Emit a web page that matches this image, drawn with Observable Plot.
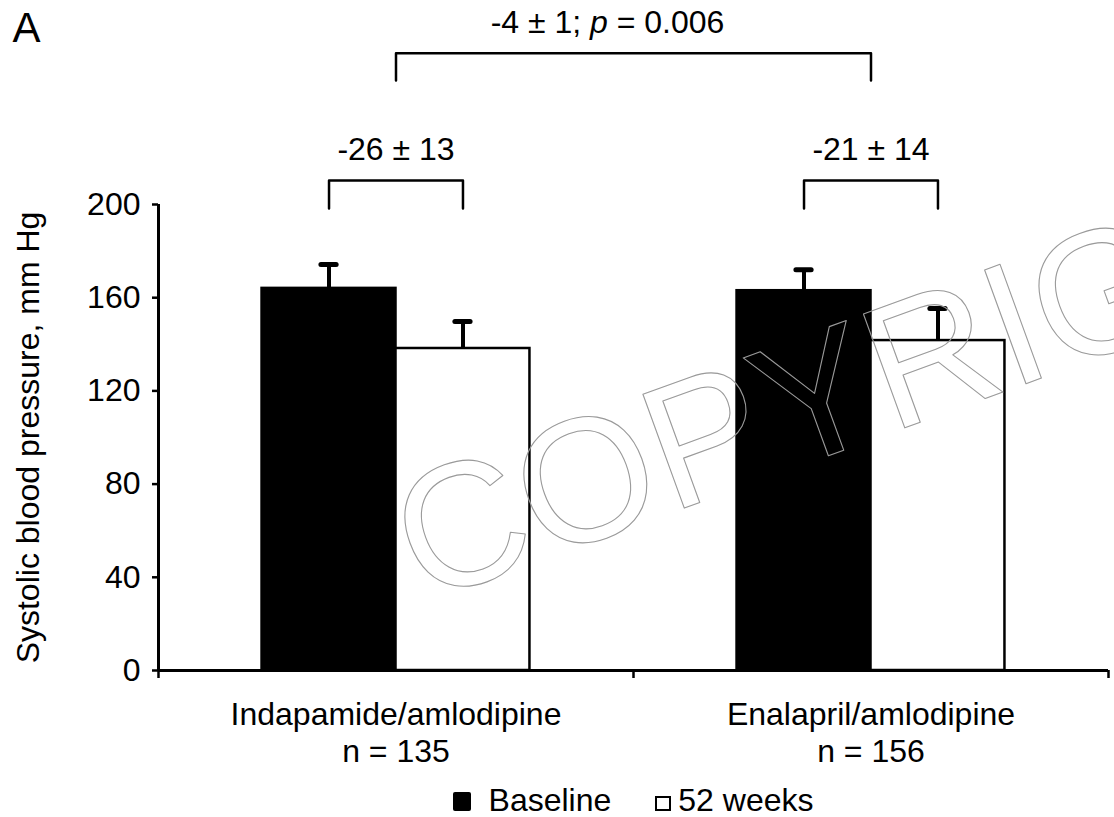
<!DOCTYPE html>
<html>
<head>
<meta charset="utf-8">
<script src="https://cdn.jsdelivr.net/npm/d3@7"></script>
<script src="https://cdn.jsdelivr.net/npm/@observablehq/plot@0.6"></script>
<style>
  body { margin: 0; background: #fff; overflow: hidden; font-family: "Liberation Sans", Arial, sans-serif; }
  #legend { box-sizing: border-box; width: 1114px; padding-left: 158px; padding-right: 6px; text-align: center;
            font-size: 32px; line-height: 36px; margin-top: 2px; color: #000; white-space: nowrap; }
  .sw { display: inline-block; vertical-align: baseline; box-sizing: border-box; }
  .sw.black { width: 18px; height: 19px; background: #000; border-radius: 2px; margin-right: 18px; }
  .sw.white { width: 16px; height: 15px; background: #fff; border: 2px solid #000; margin-right: 7px; margin-left: 44px; }
</style>
</head>
<body>
<div id="chart"></div>
<div id="legend"></div>
<script>
// ---- data ----
const groups = ["Indapamide/amlodipine", "Enalapril/amlodipine"];
const nLabels = ["n = 135", "n = 156"];
const periods = ["Baseline", "52 weeks"];
const baseline = [164, 163];
const week52 = [138.2, 141.6];
const baselineSD = [10.2, 9.0];
const week52SD = [11.6, 13.8];
const changes = ["-26 ± 13", "-21 ± 14"];
const between = "-4 ± 1; p = 0.006";
const yTicks = [0, 40, 80, 120, 160, 200];
const yLabel = "Systolic blood pressure, mm Hg";
const panel = "A";
const watermark = "COPYRIGHT";

// ---- derived tables ----
const bw = 0.282;      // bar width in x units (group spacing = 1)
const capHalf = 0.016;
const bars = groups.flatMap((g, i) => {
  const c = i + 0.5;
  return [
    {group: g, period: periods[0], value: baseline[i], sd: baselineSD[i], x1: c - bw, x2: c, xc: c - bw / 2},
    {group: g, period: periods[1], value: week52[i], sd: week52SD[i], x1: c, x2: c + bw, xc: c + bw / 2}
  ];
});

const bLow = 198.3, bHigh = 210.3, tLow = 253.2, tHigh = 264.9;
const brackets = [];
groups.forEach((g, i) => {
  const c = i + 0.5;
  [[c - bw / 2, bLow], [c - bw / 2, bHigh], [c + bw / 2, bHigh], [c + bw / 2, bLow]]
    .forEach(([x, y]) => brackets.push({id: "g" + i, x, y}));
});
[[0.5, tLow], [0.5, tHigh], [1.5, tHigh], [1.5, tLow]].forEach(([x, y]) => brackets.push({id: "top", x, y}));

const chart = Plot.plot({
  width: 1114,
  height: 780,
  marginLeft: 158,
  marginRight: 6,
  marginTop: 204,
  marginBottom: 110,
  style: {fontFamily: "Liberation Sans, Arial, sans-serif", color: "#000", background: "#fff"},
  x: {domain: [0, 2]},
  y: {domain: [0, 200]},
  color: {domain: periods, range: ["#000", "#fff"]},
  marks: [
    Plot.rectY(bars, {x1: "x1", x2: "x2", y1: 0, y2: "value", fill: "period", stroke: "#000", strokeWidth: 2.5}),
    Plot.ruleX(bars, {x: "xc", y1: "value", y2: d => d.value + d.sd, stroke: "#000", strokeWidth: 4}),
    Plot.ruleY(bars, {y: d => d.value + d.sd, x1: d => d.xc - capHalf, x2: d => d.xc + capHalf,
                      stroke: "#000", strokeWidth: 5, strokeLinecap: "round"}),
    Plot.axisY({ticks: yTicks, tickSize: 6, tickPadding: 12, fontSize: 32, label: null, strokeWidth: 2.5}),
    Plot.axisX({ticks: [0, 1, 2], tickSize: 8, tickFormat: () => "", label: null, strokeWidth: 2.5}),
    Plot.ruleX([0], {y1: 0, y2: 200, stroke: "#000", strokeWidth: 3}),
    Plot.ruleY([0], {x1: 0, x2: 2, stroke: "#000", strokeWidth: 3}),
    Plot.line(brackets, {x: "x", y: "y", z: "id", stroke: "#000", strokeWidth: 2.5, curve: "linear"}),
    Plot.text(changes, {x: (d, i) => i + 0.5, y: 219.3, text: d => d, fontSize: 32, lineAnchor: "bottom"}),
    Plot.text([between], {x: 1, y: 273.4, dx: -26, text: d => d, fontSize: 32, lineAnchor: "bottom"}),
    Plot.text(groups, {x: (d, i) => i + 0.5, y: 0, text: (d, i) => d + "\n" + nLabels[i],
                       lineAnchor: "top", dy: 28, lineHeight: 1.16, fontSize: 32}),
    Plot.text([yLabel], {frameAnchor: "left", dx: -120, rotate: -90, textAnchor: "middle", lineAnchor: "bottom",
                         text: d => d, fontSize: 32}),
    Plot.text([panel], {frameAnchor: "top-left", dx: -146, dy: -163, lineAnchor: "bottom", textAnchor: "start",
                        text: d => d, fontSize: 42, fontWeight: 300}),
    Plot.text([watermark], {x: 0.556, y: 28.8, text: d => d, rotate: -20, fontSize: 176, textAnchor: "start",
                            lineAnchor: "bottom", fill: "none", stroke: "#9a9a9a", strokeWidth: 1.1})
  ]
});

// italic "p" in the between-group annotation
for (const t of chart.querySelectorAll("text")) {
  if (t.textContent === between) {
    t.textContent = "";
    t.setAttribute("style", "white-space: pre");
    const parts = [["-4 ± 1; ", false], ["p", true], [" = 0.006", false]];
    for (const [s, it] of parts) {
      const ts = document.createElementNS("http://www.w3.org/2000/svg", "tspan");
      ts.textContent = s;
      if (it) ts.setAttribute("font-style", "italic");
      t.appendChild(ts);
    }
  }
}
document.getElementById("chart").appendChild(chart);

// legend
const lg = document.getElementById("legend");
lg.innerHTML = `<span class="sw black"></span>${periods[0]}<span class="sw white"></span>${periods[1]}`;
</script>
</body>
</html>
